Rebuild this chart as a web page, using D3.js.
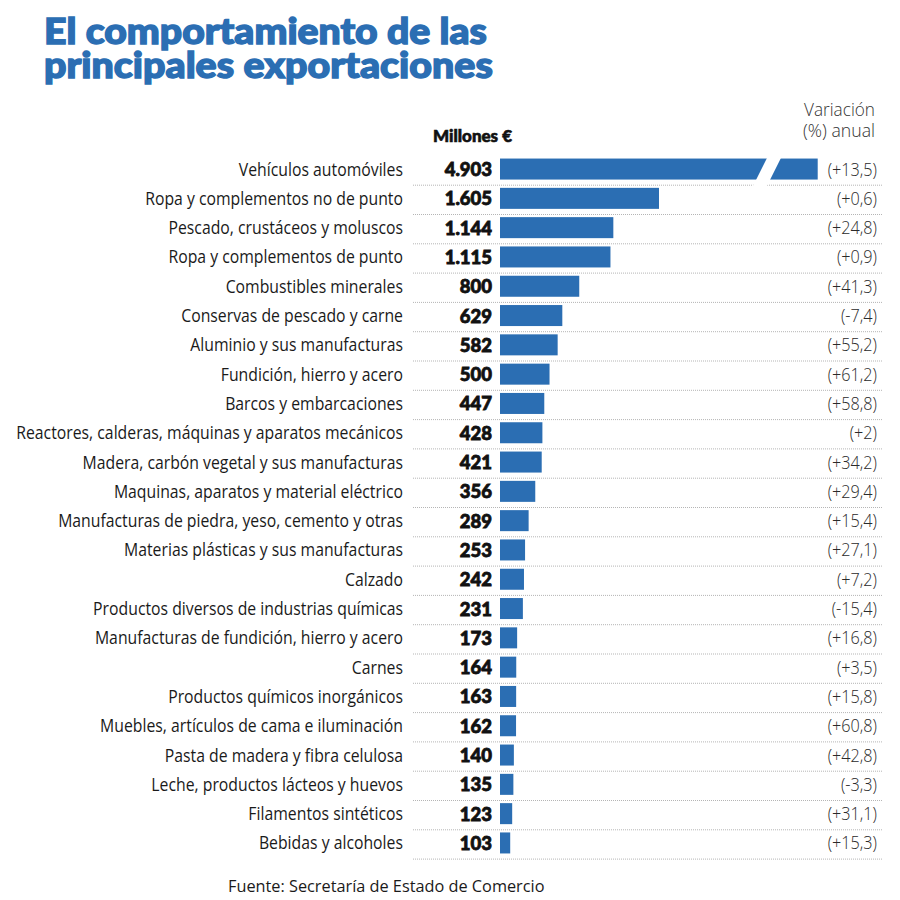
<!DOCTYPE html>
<html>
<head>
<meta charset="utf-8">
<script src="https://cdn.jsdelivr.net/npm/d3@7"></script>
<style>
  html, body { margin: 0; padding: 0; background: #fff; }
  svg { display: block; }
</style>
</head>
<body>
<svg id="chart" width="900" height="900"></svg>
<script>
const categories = [
  "Vehículos automóviles",
  "Ropa y complementos no de punto",
  "Pescado, crustáceos y moluscos",
  "Ropa y complementos de punto",
  "Combustibles minerales",
  "Conservas de pescado y carne",
  "Aluminio y sus manufacturas",
  "Fundición, hierro y acero",
  "Barcos y embarcaciones",
  "Reactores, calderas, máquinas y aparatos mecánicos",
  "Madera, carbón vegetal y sus manufacturas",
  "Maquinas, aparatos y material eléctrico",
  "Manufacturas de piedra, yeso, cemento y otras",
  "Materias plásticas y sus manufacturas",
  "Calzado",
  "Productos diversos de industrias químicas",
  "Manufacturas de fundición, hierro y acero",
  "Carnes",
  "Productos químicos inorgánicos",
  "Muebles, artículos de cama e iluminación",
  "Pasta de madera y fibra celulosa",
  "Leche, productos lácteos y huevos",
  "Filamentos sintéticos",
  "Bebidas y alcoholes"
];
const values = [4903, 1605, 1144, 1115, 800, 629, 582, 500, 447, 428, 421, 356, 289, 253, 242, 231, 173, 164, 163, 162, 140, 135, 123, 103];
const variation = ["+13,5", "+0,6", "+24,8", "+0,9", "+41,3", "-7,4", "+55,2", "+61,2", "+58,8", "+2", "+34,2", "+29,4", "+15,4", "+27,1", "+7,2", "-15,4", "+16,8", "+3,5", "+15,8", "+60,8", "+42,8", "-3,3", "+31,1", "+15,3"];
const titleLines = ["El comportamiento de las", "principales exportaciones"];
const unitLabel = "Millones €";
const variationHeader = ["Variación", "(%) anual"];
const source = "Fuente: Secretaría de Estado de Comercio";
const axisCap = 3207;      // bar scale is broken above this value
const breakAt = 2710;      // where the break mark is drawn

const fmt = d3.formatLocale({decimal: ",", thousands: ".", grouping: [3]}).format(",d");

const svg = d3.select("#chart");
const BLUE = "#2b6eb3";
const labelFont = "'Open Sans', sans-serif";

// horizontally compress each text of a selection around its anchor x
function squeezeX(sel, kFn) {
  sel.each(function (d, i) {
    const t = d3.select(this);
    const ax = +t.attr("x"), k = typeof kFn === "function" ? kFn(this, i) : kFn;
    t.attr("transform", `translate(${ax * (1 - k)},0) scale(${k},1)`);
  });
}
function fitWidths(widths) {
  return (node, i) => widths[i] / node.getComputedTextLength();
}

// Title
const title = svg.append("g").selectAll("text").data(titleLines).join("text")
  .attr("x", 44).attr("y", (d, i) => 44 + i * 34)
  .attr("font-family", "Lato, sans-serif").attr("font-weight", 900)
  .attr("font-size", 35.5).attr("fill", BLUE)
  .attr("stroke", BLUE).attr("stroke-width", 1.4)
  .text(d => d);
squeezeX(title, fitWidths([443, 449]));

const y = d3.scaleBand().domain(categories).range([154.4, 154.4 + 29.3 * categories.length])
  .paddingInner(0.283).paddingOuter(0.1415);
const x = d3.scaleLinear().domain([0, 1605]).range([500, 659]);

// separators
svg.append("g").selectAll("line").data(categories).join("line")
  .attr("x1", 413).attr("x2", 883)
  .attr("y1", d => y(d) + y.bandwidth() + y.step() * 0.1415 + 1.5)
  .attr("y2", d => y(d) + y.bandwidth() + y.step() * 0.1415 + 1.5)
  .attr("stroke", "#b5b5b5").attr("stroke-width", 1).attr("stroke-dasharray", "1,1");

// bars
svg.append("g").selectAll("rect").data(categories).join("rect")
  .attr("x", x(0)).attr("y", d => y(d))
  .attr("width", (d, i) => x(Math.min(values[i], axisCap)) - x(0))
  .attr("height", y.bandwidth()).attr("fill", BLUE);

// break mark on overflowing bars
categories.forEach((c, i) => {
  if (values[i] <= axisCap) return;
  const cx = x(breakAt), top = y(c) - 2, bot = y(c) + y.bandwidth() + 8;
  const midY = y(c) + y.bandwidth() / 2, slope = 0.5, half = 7;
  const pts = [[cx - half + (midY - top) * slope, top], [cx + half + (midY - top) * slope, top],
               [cx + half - (bot - midY) * slope, bot], [cx - half - (bot - midY) * slope, bot]];
  svg.append("polygon").attr("points", pts.map(p => p.join(",")).join(" ")).attr("fill", "#fff");
});

// category labels
const labels = svg.append("g").selectAll("text").data(categories).join("text")
  .attr("x", 403).attr("y", d => y(d) + y.bandwidth() / 2 + 6.5).attr("text-anchor", "end")
  .attr("font-family", labelFont).attr("font-size", 18.5)
  .attr("fill", "#1a1a1a").text(d => d);
const refW = labels.filter(d => d.startsWith("Reactores")).node().getComputedTextLength();
const K = 387 / refW;
squeezeX(labels, K);

// values
svg.append("g").selectAll("text").data(categories).join("text")
  .attr("x", 492).attr("y", d => y(d) + y.bandwidth() / 2 + 7).attr("text-anchor", "end")
  .attr("font-family", "Lato, sans-serif").attr("font-weight", 900).attr("font-size", 18.5)
  .attr("fill", "#111").attr("stroke", "#111").attr("stroke-width", 0.8)
  .text((d, i) => fmt(values[i]));

// header
const unit = svg.append("text").attr("x", 512).attr("y", 142).attr("text-anchor", "end")
  .attr("font-family", "Lato, sans-serif").attr("font-weight", 900).attr("font-size", 16)
  .attr("fill", "#111").attr("stroke", "#111").attr("stroke-width", 0.6).text(unitLabel);
squeezeX(unit, fitWidths([79]));
const vh = svg.append("g").selectAll("text").data(variationHeader).join("text")
  .attr("x", 875).attr("y", (d, i) => 116 + i * 21).attr("text-anchor", "end")
  .attr("font-family", labelFont).attr("font-weight", 300).attr("font-size", 19)
  .attr("fill", "#333").text(d => d);
squeezeX(vh, fitWidths([71, 72]));

// variation
const vars = svg.append("g").selectAll("text").data(categories).join("text")
  .attr("x", 877).attr("y", d => y(d) + y.bandwidth() / 2 + 6.5).attr("text-anchor", "end")
  .attr("font-family", labelFont).attr("font-weight", 300).attr("font-size", 19)
  .attr("fill", "#2a2a2a").text((d, i) => "(" + variation[i] + ")");
squeezeX(vars, K);

// source
svg.append("text").attr("x", 228).attr("y", 892)
  .attr("font-family", "'Open Sans', sans-serif").attr("font-size", 16.3)
  .attr("fill", "#1a1a1a").text(source);
</script>
</body>
</html>
